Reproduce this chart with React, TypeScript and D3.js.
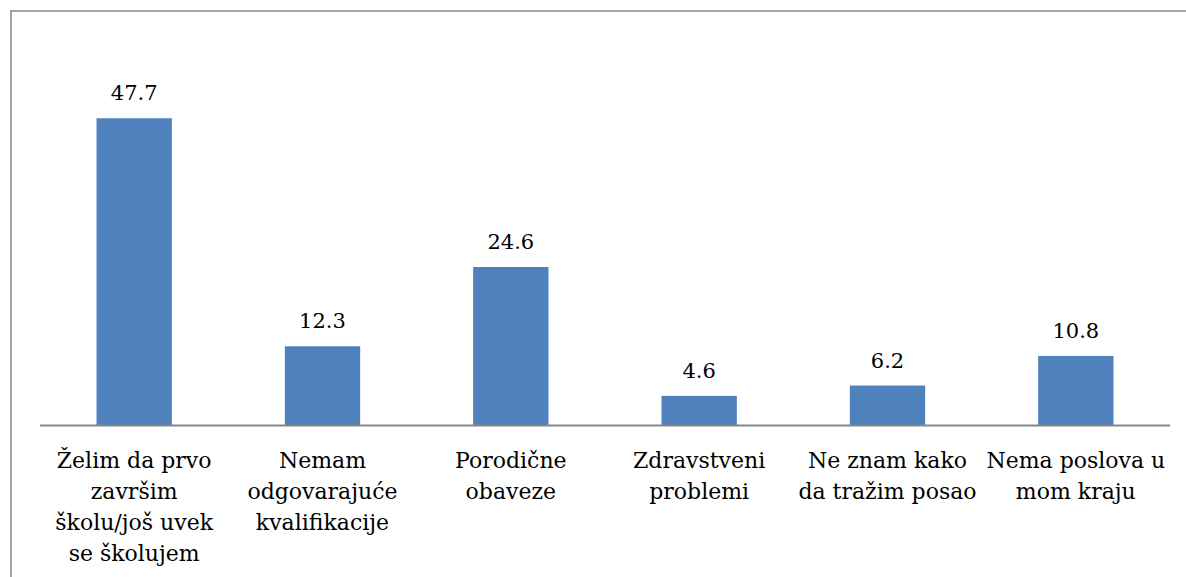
import React, { useRef, useEffect } from 'react';
import * as d3 from 'd3';

const categories = [
  'Želim da prvo završim školu/još uvek se školujem',
  'Nemam odgovarajuće kvalifikacije',
  'Porodične obaveze',
  'Zdravstveni problemi',
  'Ne znam kako da tražim posao',
  'Nema poslova u mom kraju',
];
const values = [47.7, 12.3, 24.6, 4.6, 6.2, 10.8];
const labelLines = [
  ['Želim da prvo', 'završim', 'školu/još uvek', 'se školujem'],
  ['Nemam', 'odgovarajuće', 'kvalifikacije'],
  ['Porodične', 'obaveze'],
  ['Zdravstveni', 'problemi'],
  ['Ne znam kako', 'da tražim posao'],
  ['Nema poslova u', 'mom kraju'],
];

const W = 1186;
const H = 577;
const FONT = '"DejaVu Serif", serif';

export default function App() {
  const svgRef = useRef<SVGSVGElement>(null);

  useEffect(() => {
    if (!svgRef.current) return;
    const svg = d3.select(svgRef.current);
    svg.selectAll('*').remove();

    const plot = { left: 40, right: 1170, top: 39, bottom: 425.5 };

    const x = d3.scaleBand<string>()
      .domain(categories)
      .range([plot.left, plot.right])
      .paddingInner(0.6)
      .paddingOuter(0.3);

    const y = d3.scaleLinear().domain([0, 60]).range([plot.bottom, plot.top]);

    // chart frame (cropped on right/bottom)
    svg.append('path')
      .attr('d', `M11,${H} L11,11 L${W},11`)
      .attr('fill', 'none')
      .attr('stroke', '#868686')
      .attr('stroke-width', 1.5);

    svg.selectAll('.bar')
      .data(values)
      .join('rect')
      .attr('x', (_, i) => x(categories[i])!)
      .attr('y', d => y(d))
      .attr('width', x.bandwidth())
      .attr('height', d => y(0) - y(d))
      .attr('fill', '#4F81BD');

    svg.append('line')
      .attr('x1', plot.left).attr('x2', plot.right)
      .attr('y1', plot.bottom).attr('y2', plot.bottom)
      .attr('stroke', '#868686').attr('stroke-width', 2);

    svg.selectAll('.val')
      .data(values)
      .join('text')
      .attr('x', (_, i) => x(categories[i])! + x.bandwidth() / 2)
      .attr('y', d => y(d) - 18)
      .attr('text-anchor', 'middle')
      .attr('font-family', FONT)
      .attr('font-size', '21px')
      .attr('fill', '#000')
      .text(d => d.toFixed(1));

    labelLines.forEach((lines, i) => {
      const cx = x(categories[i])! + x.bandwidth() / 2;
      const t = svg.append('text')
        .attr('text-anchor', 'middle')
        .attr('font-family', FONT)
        .attr('font-size', '22px')
        .attr('fill', '#000');
      lines.forEach((ln, j) => {
        t.append('tspan')
          .attr('x', cx)
          .attr('y', 468 + j * 31)
          .text(ln);
      });
    });
  }, []);

  return (
    <div style={{ position: 'absolute', left: 0, top: 0 }}>
      <svg ref={svgRef} width={W} height={H} style={{ display: 'block', background: '#fff' }} />
    </div>
  );
}
